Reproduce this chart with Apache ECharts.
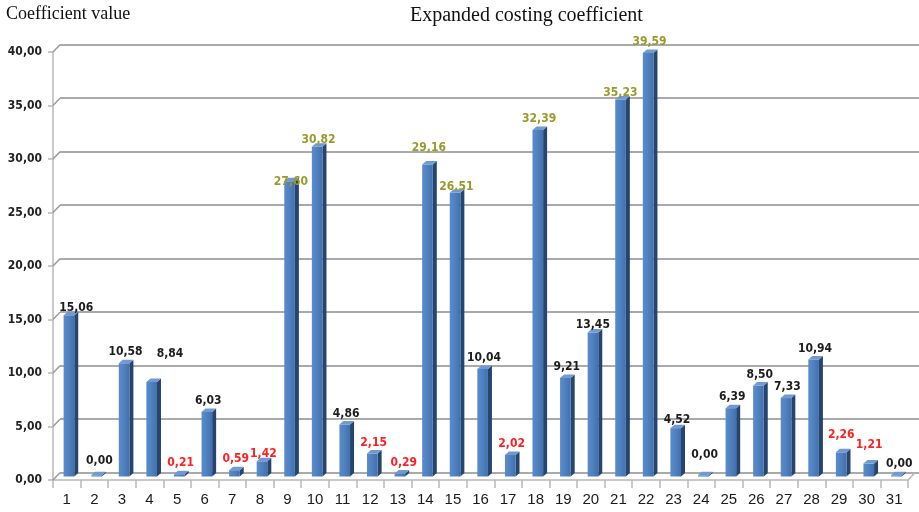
<!DOCTYPE html>
<html>
<head>
<meta charset="utf-8">
<script src="https://cdn.jsdelivr.net/npm/echarts@6/dist/echarts.min.js"></script>
<style>
  html, body { margin: 0; padding: 0; background: #ffffff; }
  #chart { width: 919px; height: 512px; }
</style>
</head>
<body>
<div id="chart"></div>
<script>
// Category numbers along the horizontal axis
const categories = ['1','2','3','4','5','6','7','8','9','10','11','12','13','14','15','16',
                    '17','18','19','20','21','22','23','24','25','26','27','28','29','30','31'];

// Expanded costing coefficient per category
const coefficientValues = [15.06, 0.00, 10.58, 8.84, 0.21, 6.03, 0.59, 1.42, 27.60, 30.82,
                           4.86, 2.15, 0.29, 29.16, 26.51, 10.04, 2.02, 32.39, 9.21, 13.45,
                           35.23, 39.59, 4.52, 0.00, 6.39, 8.50, 7.33, 10.94, 2.26, 1.21, 0.00];

// Value axis ticks
const yTicks = [0, 5, 10, 15, 20, 25, 30, 35, 40];

// Hand placement of a few value labels (category -> [dx, dy] in px)
const labelNudge = {
  1: [6, 3.6], 2: [1.5, -3.5], 4: [17, -17], 8: [0, 3.7], 9: [0, 12], 10: [0, 4.3],
  13: [2.5, 0], 14: [0, -5.6], 15: [0, 5], 20: [-1.5, 3.4], 21: [-1.5, 4.2], 23: [0, 3],
  24: [0, -9.5], 29: [-1.3, -6], 30: [-1, -7.6], 31: [1.5, 0]
};

const fmt = v => v.toFixed(2).replace('.', ',');
const NUM_FONT = '"DejaVu Sans Condensed", "DejaVu Sans", sans-serif';
const DEPTH_X = 7, DEPTH_Y = 7.3;   // depth of the 3-D floor / back wall
const LIFT = 3.5;                    // bars stand halfway into the floor

const chart = echarts.init(document.getElementById('chart'), null, { renderer: 'canvas' });

function labelColor(v) {
  if (v >= 25) return '#9a9a2c';
  if (v > 0 && v < 3) return '#ff2020';
  return '#1c1c1c';
}

function renderBar(params, api) {
  const i = api.value(0), v = api.value(1);
  const band = api.size([1, 0])[0];
  const base = api.coord([i, 0]);
  const top = api.coord([i, v]);
  const cx = base[0];
  const x0 = cx - band * 0.115, x1 = cx + band * 0.27;
  const yb = base[1] - LIFT;
  let yt = top[1] - LIFT;
  if (yb - yt < 1.2) yt = yb - 1.2;
  const dx = band * 0.145, dy = 3.5;
  return {
    type: 'group',
    children: [
      {
        type: 'polygon',
        shape: { points: [[x1, yt], [x1 + dx, yt - dy], [x1 + dx, yb - dy], [x1, yb]] },
        style: { fill: '#25446e' }
      },
      {
        type: 'rect',
        shape: { x: x0, y: yt, width: x1 - x0, height: yb - yt },
        style: {
          fill: new echarts.graphic.LinearGradient(0, 0, 1, 0, [
            { offset: 0, color: '#5a8bcb' },
            { offset: 0.5, color: '#4f80bf' },
            { offset: 1, color: '#4270ab' }
          ])
        }
      },
      {
        type: 'polygon',
        shape: { points: [[x0, yt], [x0 + dx, yt - dy], [x1 + dx, yt - dy], [x1, yt]] },
        style: { fill: '#6f9ad2' }
      }
    ]
  };
}

function renderLabel(params, api) {
  const i = api.value(0), v = api.value(1);
  const base = api.coord([i, 0]);
  const top = api.coord([i, v]);
  const yt = Math.min(top[1], base[1] - 1.2) - LIFT;
  const n = labelNudge[i + 1] || [0, 0];
  return {
    type: 'text',
    style: {
      text: fmt(v),
      x: base[0] + 3.5 + n[0],
      y: yt - 11 + n[1],
      align: 'center',
      verticalAlign: 'middle',
      fill: labelColor(v),
      fontSize: 12,
      fontWeight: 'bold',
      fontFamily: NUM_FONT
    }
  };
}

// short diagonal joining each value tick to the back wall
function renderConnector(params, api) {
  const v = api.value(1);
  const y = api.coord([0, v])[1];
  const x = params.coordSys.x;
  return {
    type: 'line',
    shape: { x1: x, y1: y, x2: x + DEPTH_X, y2: y - DEPTH_Y },
    style: { stroke: '#9a9a9a', lineWidth: 1.5 }
  };
}

// right edge of the floor
function renderFloorEdge(params, api) {
  const cs = params.coordSys;
  const y = api.coord([0, 0])[1];
  const x = cs.x + cs.width;
  return {
    type: 'line',
    shape: { x1: x, y1: y, x2: x + DEPTH_X, y2: y - DEPTH_Y },
    style: { stroke: '#b8b8b8', lineWidth: 1.5 }
  };
}

const barData = coefficientValues.map((v, i) => [i, v]);
const tickData = yTicks.map(v => [0, v]);

chart.setOption({
  animation: false,
  backgroundColor: '#ffffff',
  title: [
    {
      text: 'Expanded costing coefficient',
      left: 410, top: 6, padding: 0,
      textStyle: { fontFamily: 'Liberation Serif', fontSize: 20, fontWeight: 'normal', color: '#111111' }
    },
    {
      text: 'Coefficient value',
      left: 6, top: 5, padding: 0,
      textStyle: { fontFamily: 'Liberation Serif', fontSize: 18, fontWeight: 'normal', color: '#111111' }
    }
  ],
  grid: [
    { left: 53, right: 11, top: 52, bottom: 32 },
    { left: 53 + DEPTH_X, right: 0, top: 52 - DEPTH_Y, bottom: 32 + DEPTH_Y }
  ],
  xAxis: [
    {
      gridIndex: 0,
      type: 'category',
      data: categories,
      boundaryGap: true,
      axisLine: { lineStyle: { color: '#b8b8b8', width: 1.5 } },
      axisTick: { show: true, interval: 0, length: 8, lineStyle: { color: '#b8b8b8', width: 1.5 } },
      axisLabel: { interval: 0, margin: 12, fontSize: 15, fontFamily: 'Liberation Sans', color: '#1a1a1a' },
      splitLine: { show: false }
    },
    {
      gridIndex: 1,
      type: 'category',
      data: categories,
      show: false
    }
  ],
  yAxis: [
    {
      gridIndex: 0,
      type: 'value',
      min: 0, max: 40, interval: 5,
      axisLine: { show: true, lineStyle: { color: '#b8b8b8', width: 1.5 } },
      axisTick: { show: true, length: 5, lineStyle: { color: '#b8b8b8', width: 1.5 } },
      axisLabel: {
        formatter: v => fmt(v), margin: 11,
        fontSize: 12, fontWeight: 'bold', fontFamily: NUM_FONT, color: '#222222'
      },
      splitLine: { show: false }
    },
    {
      gridIndex: 1,
      type: 'value',
      min: 0, max: 40, interval: 5,
      axisLine: { show: false },
      axisTick: { show: false },
      axisLabel: { show: false },
      splitLine: { show: true, lineStyle: { color: '#8e8e8e', width: 1.5 } }
    }
  ],
  series: [
    {
      type: 'custom', name: 'connectors', xAxisIndex: 0, yAxisIndex: 0,
      renderItem: renderConnector, data: tickData, silent: true, z: 1
    },
    {
      type: 'custom', name: 'floorEdge', xAxisIndex: 0, yAxisIndex: 0,
      renderItem: renderFloorEdge, data: [[0, 0]], silent: true, z: 1
    },
    {
      type: 'custom', name: 'Expanded costing coefficient', xAxisIndex: 0, yAxisIndex: 0,
      renderItem: renderBar, data: barData, encode: { x: 0, y: 1 }, z: 2
    },
    {
      type: 'custom', name: 'labels', xAxisIndex: 0, yAxisIndex: 0,
      renderItem: renderLabel, data: barData, encode: { x: 0, y: 1 }, silent: true, z: 3
    }
  ]
});
</script>
</body>
</html>
